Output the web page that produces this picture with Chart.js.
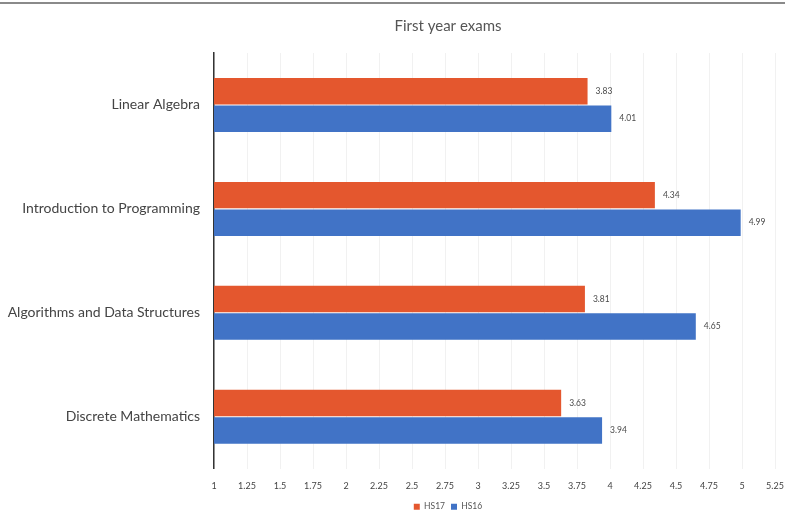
<!DOCTYPE html>
<html>
<head>
<meta charset="utf-8">
<script src="https://cdn.jsdelivr.net/npm/chart.js@4"></script>
<style>
  html, body { margin: 0; padding: 0; background: #ffffff; }
  #wrap { width: 785px; height: 511px; position: relative; }
</style>
</head>
<body>
<div id="wrap"><canvas id="c" width="785" height="511"></canvas></div>
<script>
const categories = ["Linear Algebra", "Introduction to Programming", "Algorithms and Data Structures", "Discrete Mathematics"];
const seriesNames = ["HS17", "HS16"];
const hs17 = [3.83, 4.34, 3.81, 3.63];
const hs16 = [4.01, 4.99, 4.65, 3.94];
const xMin = 1, xMax = 5.25, xStep = 0.25;
const titleText = "First year exams";

const FONT = "Lato, 'Open Sans', sans-serif";

const decoPlugin = {
  id: 'deco',
  afterLayout(chart) {
    const cx = 448;
    const t = chart.titleBlock;
    if (t) { const w = t.right - t.left; t.left = cx - w / 2; t.right = cx + w / 2; }
    const l = chart.legend;
    if (l) {
      const w = l.right - l.left; l.left = cx - w / 2; l.right = cx + w / 2;
      l.top -= 7; l.bottom -= 7;
    }
  },
  beforeDraw(chart) {
    const ctx = chart.ctx;
    ctx.save();
    ctx.strokeStyle = '#8a8a8a';
    ctx.lineWidth = 2;
    ctx.beginPath();
    ctx.moveTo(0, 3); ctx.lineTo(chart.width, 3);
    ctx.stroke();
    ctx.restore();
  },
  afterDatasetsDraw(chart) {
    const ctx = chart.ctx;
    ctx.save();
    ctx.font = "8.5px " + FONT;
    ctx.fillStyle = '#4a4a4a';
    ctx.textBaseline = 'middle';
    ctx.textAlign = 'left';
    chart.data.datasets.forEach((ds, di) => {
      const meta = chart.getDatasetMeta(di);
      meta.data.forEach((bar, i) => {
        ctx.fillText(ds.data[i].toFixed(2), bar.x + 8, bar.y);
      });
    });
    ctx.restore();
  }
};

new Chart(document.getElementById('c'), {
  type: 'bar',
  data: {
    labels: categories,
    datasets: [
      { label: seriesNames[0], data: hs17, backgroundColor: '#e4572e', borderWidth: 0,
        categoryPercentage: 0.53, barPercentage: 0.96 },
      { label: seriesNames[1], data: hs16, backgroundColor: '#4173c6', borderWidth: 0,
        categoryPercentage: 0.53, barPercentage: 0.96 }
    ]
  },
  options: {
    indexAxis: 'y',
    responsive: false,
    animation: false,
    devicePixelRatio: 1,
    layout: { padding: { left: 0, right: 0, top: 0, bottom: -17 } },
    scales: {
      x: {
        type: 'linear',
        min: xMin, max: xMax,
        base: xMin,
        ticks: { stepSize: xStep, color: '#444444', font: { family: FONT, size: 9 }, padding: 12,
          callback: v => String(v) },
        grid: { color: '#f1f1f1', drawTicks: false, lineWidth: 1 },
        border: { display: false },
        afterFit(scale) { scale.paddingRight = 10; scale.paddingLeft = 0; }
      },
      y: {
        ticks: { color: '#444444', font: { family: FONT, size: 14 }, padding: 14 },
        grid: { display: false, drawTicks: false },
        border: { display: true, color: '#333333', width: 1.5 },
        afterFit(scale) { scale.width = 214; }
      }
    },
    plugins: {
      title: { display: true, text: titleText, color: '#555555',
        font: { family: FONT, size: 15, weight: 'normal' }, padding: { top: 17, bottom: 18 } },
      legend: { position: 'bottom',
        labels: { boxWidth: 6, boxHeight: 6, color: '#555555', font: { family: FONT, size: 8.5 }, padding: 6 } },
      tooltip: { enabled: false }
    }
  },
  plugins: [decoPlugin]
});
</script>
</body>
</html>
